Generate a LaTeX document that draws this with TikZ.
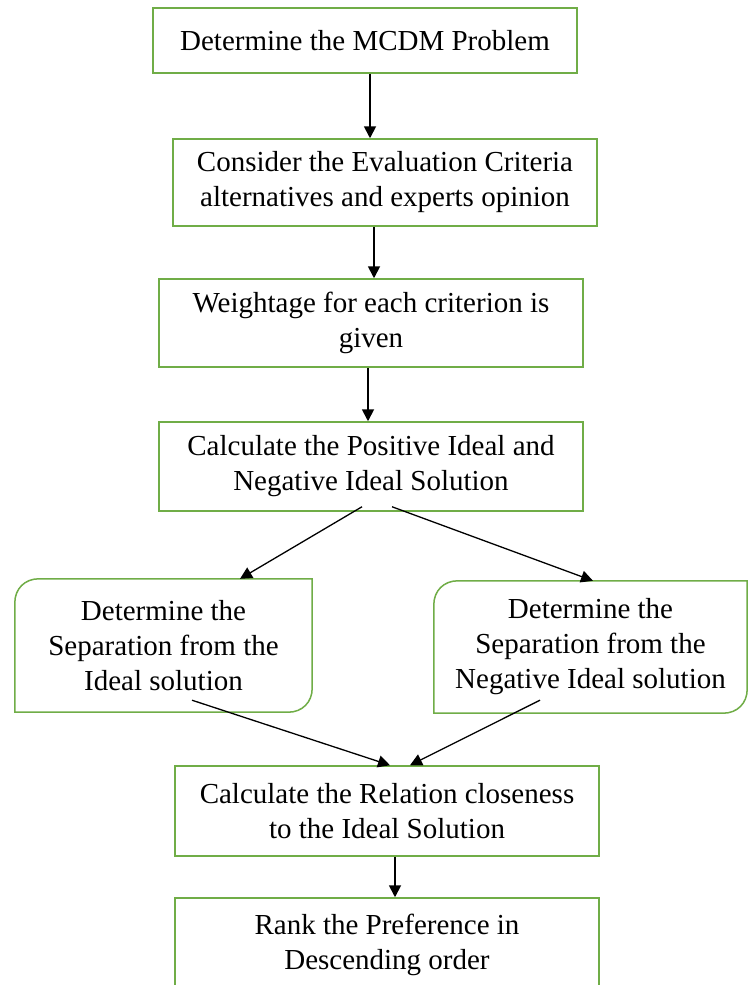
\documentclass[tikz,border=0pt]{standalone}
\usepackage{fontspec}
\setmainfont{Liberation Serif}
\usetikzlibrary{arrows.meta}
\definecolor{boxgreen}{HTML}{70AD47}
\begin{document}
\begin{tikzpicture}[x=1pt,y=-1pt,
  stepbox/.style={draw=boxgreen,line width=1.5pt,minimum width=424pt,inner sep=0pt,align=center,font=\fontsize{29}{35}\selectfont},
  sidebox/.style={inner sep=0pt,align=center,font=\fontsize{29}{35}\selectfont},
  flow/.style={draw=black,line width=1.8pt,-{Triangle[length=12pt,width=12pt]}},
  greenline/.style={draw=boxgreen,line width=1.5pt}]
\useasboundingbox (0,0) rectangle (748,985);
\clip (0,0) rectangle (748,985);
\fill[white] (0,0) rectangle (748,985);

\node[stepbox,minimum height=65pt] (b1) at (365,40.5) {Determine the MCDM Problem};
\node[stepbox,minimum height=87pt] (b2) at (385,182.5) {Consider the Evaluation Criteria\\alternatives and experts opinion};
\node[stepbox,minimum height=88pt] (b3) at (371,323) {Weightage for each criterion is\\given};
\node[stepbox,minimum height=89pt] (b4) at (371,466.5) {Calculate the Positive Ideal and\\Negative Ideal Solution};
\node[sidebox,minimum width=297pt,minimum height=133pt] (sl) at (163.5,645.5) {Determine the\\Separation from the\\Ideal solution};
\node[sidebox,minimum width=313pt,minimum height=132pt] (sr) at (590.5,647) {Determine the\\Separation from the\\Negative Ideal solution};
\node[stepbox,minimum height=90pt] (b6) at (387,811) {Calculate the Relation closeness\\to the Ideal Solution};
\node[stepbox,minimum height=94pt] (b7) at (387,945) {Rank the Preference in\\Descending order};

% rounded-diagonal boxes
\draw[greenline] (sl.south west) -- ([yshift=-24pt]sl.north west) .. controls ([yshift=-10pt]sl.north west) and ([xshift=10pt]sl.north west) .. ([xshift=24pt]sl.north west) -- (sl.north east) -- ([yshift=24pt]sl.south east) .. controls ([yshift=10pt]sl.south east) and ([xshift=-10pt]sl.south east) .. ([xshift=-24pt]sl.south east) -- cycle;
\draw[greenline] (sr.south west) -- ([yshift=-24pt]sr.north west) .. controls ([yshift=-10pt]sr.north west) and ([xshift=10pt]sr.north west) .. ([xshift=24pt]sr.north west) -- (sr.north east) -- ([yshift=24pt]sr.south east) .. controls ([yshift=10pt]sr.south east) and ([xshift=-10pt]sr.south east) .. ([xshift=-24pt]sr.south east) -- cycle;

% connectors
\draw[flow] ([xshift=5pt]b1.south) -- ([xshift=-15pt]b2.north);
\draw[flow] ([xshift=-11pt]b2.south) -- ([xshift=3pt]b3.north);
\draw[flow] ([xshift=-3pt]b3.south) -- ([xshift=-3pt]b4.north);
\draw[flow,line width=1.3pt] ([xshift=-9pt,yshift=5pt]b4.south) -- ([xshift=76.5pt]sl.north);
\draw[flow,line width=1.3pt] ([xshift=21pt,yshift=5pt]b4.south) -- ([xshift=2.5pt]sr.north);
\draw[flow,line width=1.3pt] ([xshift=28.5pt,yshift=12pt]sl.south) -- ([xshift=3pt]b6.north);
\draw[flow,line width=1.3pt] ([xshift=-50.5pt,yshift=13pt]sr.south) -- ([xshift=23pt]b6.north);
\draw[flow] ([xshift=8pt]b6.south) -- ([xshift=8pt]b7.north);
\end{tikzpicture}
\end{document}
